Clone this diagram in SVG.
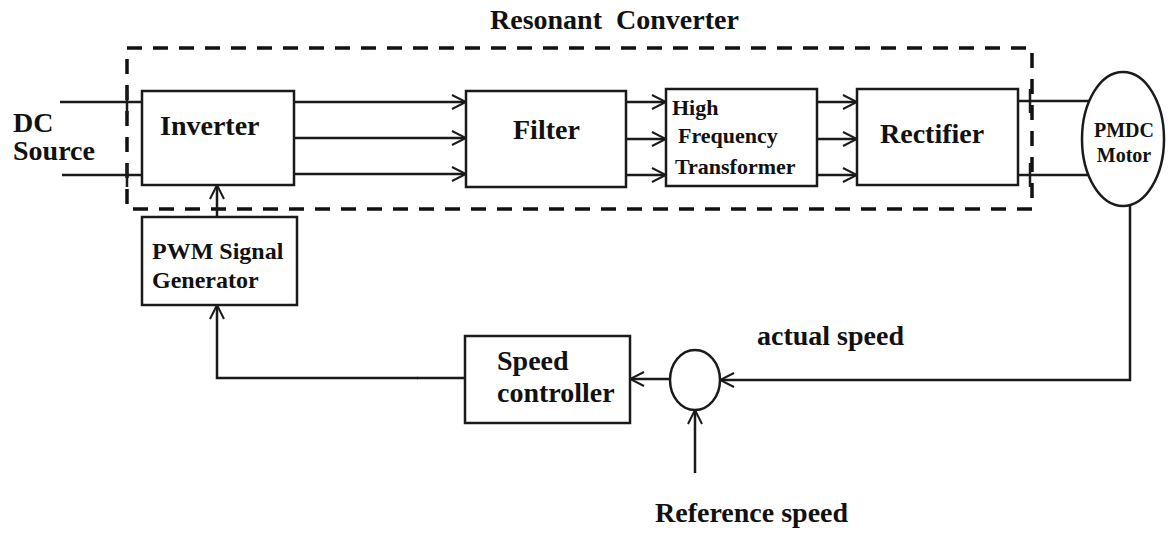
<svg xmlns="http://www.w3.org/2000/svg" width="1171" height="533" viewBox="0 0 1171 533">
<style>
.box{fill:#fff;stroke:#1a1a1a;stroke-width:2.5}
.ln{fill:none;stroke:#1a1a1a;stroke-width:2.5}
.t{font-family:"Liberation Serif","Times New Roman",serif;font-weight:bold;fill:#111;font-size:28px}
.s22{font-size:22px}
.s24{font-size:24px}
.s20{font-size:20px}
</style>
<defs>
<marker id="ah" viewBox="0 0 18 18" refX="16" refY="9" markerWidth="18" markerHeight="18" orient="auto" markerUnits="userSpaceOnUse">
<path d="M2,2 L16,9 L2,16" fill="none" stroke="#1a1a1a" stroke-width="2"/>
</marker>
</defs>
<g id="resonant-converter">
<rect x="127" y="48" width="905" height="161" fill="none" stroke="#111" stroke-width="3.5" stroke-dasharray="15 11"/>
<text class="t" x="490" y="29" style="white-space:pre" font-size="29">Resonant  Converter</text>
</g>
<g id="connectors">
<line class="ln" x1="60" y1="102" x2="142" y2="102"/>
<line class="ln" x1="62" y1="175" x2="142" y2="175"/>
<line class="ln" x1="127" y1="90" x2="127" y2="114"/>
<line class="ln" x1="127" y1="163" x2="127" y2="187"/>
<line class="ln" x1="294" y1="102" x2="466" y2="102" marker-end="url(#ah)"/>
<line class="ln" x1="294" y1="138" x2="466" y2="138" marker-end="url(#ah)"/>
<line class="ln" x1="294" y1="174" x2="466" y2="174" marker-end="url(#ah)"/>
<line class="ln" x1="626" y1="102" x2="666" y2="102" marker-end="url(#ah)"/>
<line class="ln" x1="626" y1="139" x2="666" y2="139" marker-end="url(#ah)"/>
<line class="ln" x1="626" y1="175" x2="666" y2="175" marker-end="url(#ah)"/>
<line class="ln" x1="817" y1="102" x2="857" y2="102" marker-end="url(#ah)"/>
<line class="ln" x1="817" y1="139" x2="857" y2="139" marker-end="url(#ah)"/>
<line class="ln" x1="817" y1="175" x2="857" y2="175" marker-end="url(#ah)"/>
<line class="ln" x1="1018" y1="101" x2="1089" y2="101"/>
<line class="ln" x1="1018" y1="175" x2="1089" y2="175"/>
<line class="ln" x1="1030" y1="89" x2="1030" y2="113"/>
<line class="ln" x1="1030" y1="163" x2="1030" y2="187"/>
<line class="ln" x1="217" y1="217" x2="217" y2="185" marker-end="url(#ah)"/>
<path class="ln" d="M1130,205 L1130,380 L720,380" marker-end="url(#ah)"/>
<line class="ln" x1="670" y1="379" x2="630" y2="379" marker-end="url(#ah)"/>
<line class="ln" x1="695" y1="473" x2="695" y2="410" marker-end="url(#ah)"/>
<line class="ln" x1="465" y1="378" x2="417" y2="378"/>
<path class="ln" d="M418,378 L217,378 L217,305" stroke-width="4" marker-end="url(#ah)"/>
</g>
<g id="dc-source">
<text class="t" x="13" y="132">DC</text>
<text class="t" x="13" y="160">Source</text>
</g>
<g id="inverter">
<rect class="box" x="142" y="91" width="152" height="94"/>
<text class="t" x="160" y="135">Inverter</text>
</g>
<g id="filter">
<rect class="box" x="466" y="91" width="160" height="96"/>
<text class="t" x="513" y="139">Filter</text>
</g>
<g id="hf-transformer">
<rect class="box" x="666" y="89" width="151" height="97"/>
<text class="t s22" x="672" y="115">High</text>
<text class="t s22" x="678" y="143">Frequency</text>
<text class="t s22" x="675" y="174">Transformer</text>
</g>
<g id="rectifier">
<rect class="box" x="857" y="89" width="161" height="96"/>
<text class="t" x="880" y="143">Rectifier</text>
</g>
<g id="pmdc-motor">
<ellipse class="box" cx="1123" cy="139" rx="41" ry="67"/>
<text class="t s20" x="1124" y="137" text-anchor="middle">PMDC</text>
<text class="t s20" x="1124" y="162" text-anchor="middle">Motor</text>
</g>
<g id="pwm-generator">
<rect class="box" x="142" y="217" width="155" height="88"/>
<text class="t s24" x="152" y="259">PWM Signal</text>
<text class="t s24" x="152" y="288">Generator</text>
</g>
<g id="speed-controller">
<rect class="box" x="465" y="336" width="165" height="87"/>
<text class="t" x="497" y="370">Speed</text>
<text class="t" x="497" y="402">controller</text>
</g>
<g id="summing-junction">
<ellipse class="box" cx="695" cy="380" rx="25" ry="30"/>
</g>
<g id="labels">
<text class="t" x="757" y="345">actual speed</text>
<text class="t" x="655" y="522">Reference speed</text>
</g>
</svg>
